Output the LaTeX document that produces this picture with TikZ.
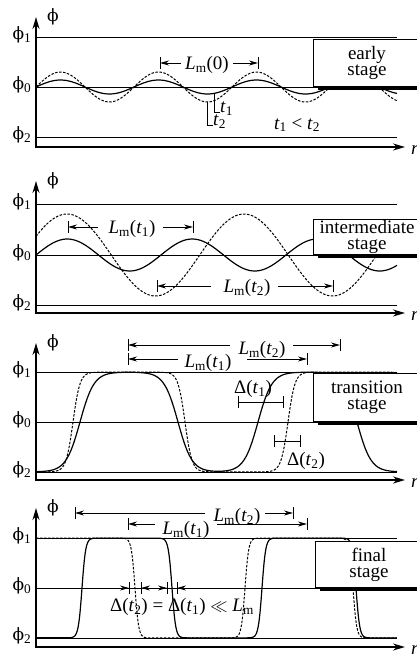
\documentclass[tikz,border=0pt]{standalone}
\usepackage{fontspec}
\setmainfont{Liberation Serif}
\newfontfamily\phifont{DejaVu Serif}
\usetikzlibrary{arrows.meta,shadows}
\newcommand{\tsb}[1]{\textit{t}\textsubscript{#1}}
\newcommand{\Lmm}[1]{\textit{L}\textsubscript{m}(#1)}
\newcommand{\phis}{{\phifont\fontsize{17}{17}\selectfont ϕ}}
\tikzset{
  axis/.style={line width=1.8pt, arrows={Stealth[length=12pt,width=7pt]-Stealth[length=12pt,width=7pt]}, line join=miter},
  level/.style={line width=0.9pt},
  solidc/.style={line width=1.2pt},
  dashc/.style={line width=1pt, dash pattern=on 2.5pt off 1.5pt},
  lbl/.style={font=\fontsize{19}{15}\selectfont, inner sep=0pt},
  stagebox/.style={draw, line width=1pt, fill=white, align=center, inner sep=1pt,
    font=\fontsize{19}{16}\selectfont, minimum width=107pt, anchor=south west,
    drop shadow={shadow xshift=4pt, shadow yshift=-3pt, opacity=1, fill=black}},
  dimtip/.style={line width=0.9pt, arrows={-Stealth[length=9pt,width=5pt]}},
  bar/.style={line width=0.9pt},
  thin/.style={line width=0.8pt},
}
\newcommand{\phaxes}[6]{%
  \coordinate (o#1) at (36,#6);
  \coordinate (yt#1) at (36,#2);
  \coordinate (xt#1) at (405,#6);
  \draw[level] (36,#3) coordinate (pa#1) -- (397,#3) coordinate (pb#1);
  \draw[level] (36,#4) coordinate (qa#1) -- (397,#4) coordinate (qb#1);
  \draw[level] (36,#5) coordinate (ra#1) -- (397,#5) coordinate (rb#1);
  \draw[axis] (yt#1) -- (o#1) -- (xt#1);
  \node[lbl] (lp#1) at (22,#3-2) {\phis\textsubscript{1}};
  \node[lbl] (lq#1) at (22,#4-2) {\phis\textsubscript{0}};
  \node[lbl] (lr#1) at (22,#5-2) {\phis\textsubscript{2}};
  \node[lbl] (ph#1) at (53,#2) {\phis};
  \node[lbl,anchor=west] (rr#1) at (411,#6+3) {\textit{r}};
}
\newcommand{\lmarrow}[9]{%
  \coordinate (#1a) at (#2,#4);
  \coordinate (#1b) at (#3,#4);
  \draw[bar] (#2,#4-6) -- (#2,#4+6);
  \draw[bar] (#3,#4-6) -- (#3,#4+6);
  \draw[dimtip] (#5,#4) -- (#1a);
  \draw[dimtip] (#6,#4) -- (#1b);
  \node[lbl] (#1t) at (#7,#8) {#9};
}
\begin{document}
\begin{tikzpicture}[x=1pt,y=-1pt,
  declare function={th(\u)=1-2/(exp(2*max(-4,min(4,\u)))+1);}]
\useasboundingbox (0,0) rectangle (417,654);
\clip (0,0) rectangle (417,654);
\fill[white] (0,0) rectangle (417,654);

% ---------- Panel 1: early stage
\phaxes{A}{17}{37}{87}{137}{147}
\draw[solidc] plot[smooth,domain=36:397,samples=150] (\x,{87-7*sin((\x-36)*(360/98))});
\draw[dashc] plot[smooth,domain=36:397,samples=150] (\x,{87-15*sin((\x-36)*(360/98))});
\node[stagebox, minimum height=47pt] (sA) at (313,87) {early\\stage};
\lmarrow{LA}{160}{258}{63}{181}{233}{207}{65}{\Lmm{0}}
\draw[thin] (214,94) -- (214,112) -- (220,112);
\node[lbl,anchor=west] (tA1) at (220,109) {\tsb{1}};
\draw[thin] (207,102) -- (207,125) -- (213,125);
\node[lbl,anchor=west] (tA2) at (213,122) {\tsb{2}};
\node[lbl] (tA3) at (297,125) {\tsb{1} < \tsb{2}};

% ---------- Panel 2: intermediate stage
\phaxes{B}{181}{204}{255}{305}{313}
\draw[solidc] plot[smooth,domain=36:397,samples=150] (\x,{255-16*sin((\x-36)*(360/125))});
\draw[dashc] plot[smooth,domain=36:397,samples=150] (\x,{255-41*cos((\x-67)*(360/177))});
\node[stagebox, minimum height=35pt] (sB) at (313,255) {intermediate\\stage};
\lmarrow{LB}{68}{193}{227}{98}{163}{132}{229}{\Lmm{\tsb{1}}}
\lmarrow{LC}{157}{333}{286}{211}{278}{247}{288}{\Lmm{\tsb{2}}}

% ---------- Panel 3: transition stage
\phaxes{C}{343}{372}{422}{472}{480}
\draw[solidc] plot[domain=36:397,samples=300]
  (\x,{422+50*th((\x-80)/14)*th((\x-178)/14)*th((\x-258)/14)*th((\x-357)/14)});
\draw[dashc] plot[domain=36:397,samples=400]
  (\x,{422+50*th((\x-73)/7)*th((\x-185)/7)*th((\x-288)/7)*th((\x-415)/7)});
\node[stagebox, minimum height=48pt] (sC) at (313,422) {transition\\stage};
\lmarrow{LD}{128}{340}{345}{230}{293}{262}{350}{\Lmm{\tsb{2}}}
\lmarrow{LE}{128}{307}{359}{178}{247}{208}{363}{\Lmm{\tsb{1}}}
\coordinate (DA1) at (238,402);
\coordinate (DA2) at (283,402);
\draw[bar] (DA1) -- (DA2);
\draw[bar] (238,396) -- (238,408);
\draw[bar] (283,396) -- (283,408);
\node[lbl] (tDA) at (253,389) {Δ(\tsb{1})};
\coordinate (DB1) at (274,441);
\coordinate (DB2) at (300,441);
\draw[bar] (DB1) -- (DB2);
\draw[bar] (274,435) -- (274,447);
\draw[bar] (300,435) -- (300,447);
\node[lbl] (tDB) at (306,461) {Δ(\tsb{2})};

% ---------- Panel 4: final stage
\phaxes{D}{508}{538}{588}{638}{647}
\draw[solidc] plot[domain=36:397,samples=720]
  (\x,{588+50*th((\x-82)/3.7)*th((\x-172)/3.7)*th((\x-262)/3.7)*th((\x-356)/3.7)});
\draw[dashc] plot[domain=36:397,samples=720]
  (\x,{588+50*th((\x-135)/3.7)*th((\x-245)/3.7)*th((\x-353)/3.7)});
\node[stagebox, minimum height=46pt] (sD) at (315,588) {final\\stage};
\lmarrow{LF}{75}{293}{513}{205}{265}{237}{517}{\Lmm{\tsb{2}}}
\lmarrow{LG}{128}{307}{524}{155}{217}{186}{530}{\Lmm{\tsb{1}}}
\coordinate (E1) at (129,588);
\coordinate (E2) at (141,588);
\coordinate (E3) at (167,588);
\coordinate (E4) at (177,588);
\coordinate (Em) at (154,588);
\foreach \xx in {129,141,167,177} \draw[bar] (\xx,582) -- (\xx,594);
\draw[dimtip] (110,588) -- (E1);
\draw[dimtip] (Em) -- (E2);
\draw[dimtip] (Em) -- (E3);
\draw[dimtip] (196,588) -- (E4);
\node[lbl] (tE) at (182,607) {Δ(\tsb{2}) = Δ(\tsb{1}) $\ll$ \textit{L}\textsubscript{m}};
\end{tikzpicture}
\end{document}
